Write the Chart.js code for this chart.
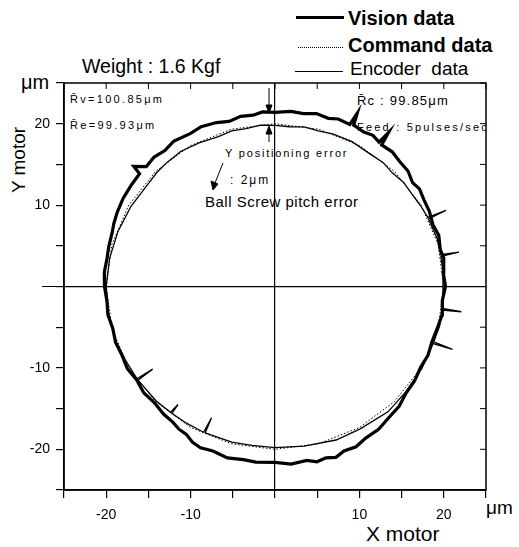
<!DOCTYPE html>
<html>
<head>
<meta charset="utf-8">
<script src="https://cdn.jsdelivr.net/npm/chart.js@4.4.0/dist/chart.umd.min.js"></script>
<style>
    body { margin: 0; background: #fff; }
    #wrap { position: relative; width: 519px; height: 547px; overflow: hidden; font-family: "Liberation Sans", Arial, sans-serif; color: #000; }
    #wrap canvas { position: absolute; left: 0; top: 0; }
    .t { position: absolute; white-space: pre; line-height: 1; transform: translateY(-50%); }
    .ln { position: absolute; }
</style>
</head>
<body>
<div id="wrap">
    <!-- legend -->
    <div class="ln" style="left:296px; top:16px; width:48px; height:3px; background:#000"></div>
    <div class="t" style="left:348px; top:18px; font-size:20px; font-weight:bold">Vision data</div>
    <div class="ln" style="left:298px; top:47px; width:45px; border-top:1.5px dotted #000"></div>
    <div class="t" style="left:348px; top:45px; font-size:20px; font-weight:bold">Command data</div>
    <div class="ln" style="left:295px; top:71px; width:48px; height:1px; background:#000"></div>
    <div class="t" style="left:350px; top:68px; font-size:19px">Encoder  data</div>

    <div class="t" style="left:82px; top:67px; font-size:19.5px">Weight : 1.6 Kgf</div>
    <div class="t" style="left:21px; top:82px; font-size:20px">μm</div>
    <div class="t" style="left:486px; top:507px; font-size:19px">μm</div>
    <div class="t" style="left:366px; top:533px; font-size:21px">X motor</div>
    <div class="t" style="left:18px; top:160px; font-size:19px; transform: translate(-50%, -50%) rotate(-90deg)">Y motor</div>

    <!-- notes inside the plot -->
    <div class="t" style="left:70px; top:99px; font-size:11px; letter-spacing:2.3px">R̄v=100.85μm</div>
    <div class="t" style="left:70px; top:125px; font-size:11px; letter-spacing:2.3px">R̄e=99.93μm</div>
    <div class="t" style="left:357px; top:100px; font-size:13px; letter-spacing:1.2px">R̄c : 99.85μm</div>
    <div style="position:absolute; left:357px; top:118px; width:129px; height:18px; overflow:hidden">
        <div class="t" style="left:0; top:9px; font-size:11px; letter-spacing:2.2px">Feed : 5pulses/sec</div>
    </div>
    <div class="t" style="left:225px; top:153px; font-size:11px; letter-spacing:1.8px">Y positioning error</div>
    <div class="t" style="left:230px; top:180px; font-size:12px; letter-spacing:2px">: 2μm</div>
    <div class="t" style="left:205px; top:201px; font-size:15px; letter-spacing:0.5px">Ball Screw pitch error</div>

    <canvas id="chart" width="519" height="547"></canvas>

    <svg width="519" height="547" style="position:absolute; left:0; top:0; pointer-events:none">
        <g stroke="#000" stroke-width="1" fill="#000">
            <line x1="269" y1="88" x2="269" y2="106"/>
            <polygon points="266,105 272,105 269,113"/>
            <line x1="269" y1="142" x2="269" y2="133"/>
            <polygon points="266,134 272,134 269,126"/>
            <line x1="223" y1="163" x2="215" y2="183"/>
            <polygon points="211,181 218,184 213,190"/>
        </g>
    </svg>
</div>

<script>
// angles in degrees, radii in μm
const visionAngle = [0, 5, 10, 13, 18, 22, 27, 31, 35, 38, 42, 46, 50, 54, 54.6, 55.2, 58, 61, 64.8, 65.4, 66, 70, 73, 77, 81, 85,
    90, 94, 97, 101, 105, 109, 114, 118, 124, 128, 132, 136, 138.6, 139.2, 144, 149, 154, 158, 161, 166, 170, 175,
    180, 185, 190, 195, 200, 205, 210, 215, 220, 225, 230, 234, 237, 240, 243, 246, 250, 255, 260, 264,
    270, 275, 280, 283, 286, 289, 292, 296, 300, 305, 310, 315, 320, 325, 330, 335, 340, 345, 350, 355, 360]
const visionRadius = [20.2, 20.0, 20.3, 20.1, 20.4, 20.2, 20.5, 20.6, 20.9, 20.7, 21.2, 21.3, 21.6, 21.5, 23.2, 21.6, 21.9, 21.7, 21.9, 23.4, 21.8, 21.9, 21.6, 21.8, 21.5, 21.6,
    21.4, 21.5, 21.2, 21.3, 21.0, 21.3, 21.5, 21.3, 21.5, 21.2, 21.4, 21.2, 22.3, 21.2, 21.1, 21.0, 20.8, 20.6, 20.4, 20.3, 20.2, 20.3,
    20.2, 20.0, 20.1, 19.9, 20.1, 20.0, 20.2, 20.0, 20.3, 20.2, 20.5, 20.6, 20.9, 21.0, 21.5, 21.7, 21.5, 21.8, 21.6, 21.7,
    21.6, 21.9, 21.7, 22.1, 21.9, 22.2, 21.8, 21.9, 21.5, 21.4, 21.0, 20.8, 20.3, 20.2, 19.9, 20.0, 19.8, 19.9, 20.1, 19.9, 20.2]

const encoderAngle = [0, 5, 10.7, 11, 11.3, 17, 24.5, 24.8, 25.1, 30, 35, 40, 45, 50, 56, 63, 70, 75, 80, 85, 90, 95, 100, 105, 110, 117, 124,
    130, 135, 141, 150, 160, 170, 180, 190, 200, 207, 214.7, 215, 215.3, 225, 231.3, 231.6, 231.9, 238, 244.7, 245, 245.3,
    255, 262, 270, 280, 291, 300, 311, 320, 330, 339.5, 339.8, 340.1, 346, 351.7, 352, 352.3, 360]
const encoderRadius = [19.9, 20.0, 20.0, 22.2, 20.0, 20.1, 20.0, 22.3, 20.0, 19.9, 19.8, 19.9, 19.7, 19.9, 19.8, 20.0, 19.95, 19.8, 19.9, 19.7, 19.8, 19.9, 19.7, 19.8, 19.6, 19.8, 20.0,
    19.9, 19.8, 19.6, 19.7, 19.8, 19.9, 20.0, 20.0, 20.0, 19.9, 19.9, 17.7, 19.9, 19.9, 19.8, 18.5, 19.8, 19.8, 19.8, 17.8, 19.8,
    19.8, 19.7, 19.8, 19.9, 20.2, 20.2, 20.4, 20.2, 20.1, 20.0, 22.4, 20.0, 20.1, 20.0, 22.3, 20.0, 19.9]

const commandAngle = [0, 15, 30, 45, 60, 75, 90, 105, 120, 135, 150, 165, 180, 195, 210, 225, 240, 255, 270, 285, 300, 315, 330, 345, 360]
const commandRadius = [20, 20, 20, 20, 20, 20, 20, 20, 20, 20, 20, 20, 20, 20, 20, 20, 20, 20, 20, 20, 20, 20, 20, 20, 20]

const axisTicks = [-25, -20, -15, -10, -5, 0, 5, 10, 15, 20, 25]

let toPoints = (angles, radii) => {
    return angles.map((a, i) => {
        let rad = a * Math.PI / 180
        return { x: radii[i] * Math.cos(rad), y: radii[i] * Math.sin(rad) }
    })
}

const framePlugin = {
    id: 'frame',
    afterDraw(chart) {
        const { ctx, chartArea: a, scales } = chart
        ctx.save()
        ctx.strokeStyle = '#000'
        ctx.lineWidth = 1.5
        ctx.strokeRect(a.left, a.top, a.right - a.left, a.bottom - a.top)
        ctx.lineWidth = 1
        ctx.beginPath()
        for (let v of axisTicks) {
            let px = scales.x.getPixelForValue(v)
            ctx.moveTo(px, a.top)
            ctx.lineTo(px, a.top + 6)
            let py = scales.y.getPixelForValue(v)
            ctx.moveTo(a.right, py)
            ctx.lineTo(a.right - 6, py)
        }
        // the zero line sticks out a bit on the left
        let y0 = scales.y.getPixelForValue(0)
        ctx.moveTo(a.left - 22, y0)
        ctx.lineTo(a.left, y0)
        ctx.stroke()
        ctx.restore()
    }
}

let axis = (size, pad) => ({
    type: 'linear',
    min: -25,
    max: 25,
    afterBuildTicks: (scale) => { scale.ticks = axisTicks.map(v => ({ value: v })) },
    afterFit: (scale) => {
        if (scale.isHorizontal()) scale.height = size
        else scale.width = size
    },
    border: { display: true, color: '#000', width: 1.5 },
    grid: {
        drawOnChartArea: true,
        color: (c) => c.tick && c.tick.value === 0 ? '#000' : 'rgba(0,0,0,0)',
        tickColor: '#000',
        lineWidth: 1.2,
        tickLength: 8,
    },
    ticks: {
        color: '#000',
        padding: pad,
        font: { family: '"Liberation Sans", Arial, sans-serif', size: 14 },
        callback: (v) => (v % 10 === 0 && v !== 0) ? String(v) : '',
    },
})

window.addEventListener('load', () => {
    new Chart(document.getElementById('chart'), {
        type: 'scatter',
        data: {
            datasets: [
                {
                    label: 'Command data',
                    data: toPoints(commandAngle, commandRadius),
                    showLine: true,
                    borderColor: '#000',
                    borderWidth: 1,
                    borderDash: [1.5, 2],
                    pointRadius: 0,
                },
                {
                    label: 'Encoder data',
                    data: toPoints(encoderAngle, encoderRadius),
                    showLine: true,
                    borderColor: '#000',
                    borderWidth: 1.3,
                    pointRadius: 0,
                },
                {
                    label: 'Vision data',
                    data: toPoints(visionAngle, visionRadius),
                    showLine: true,
                    borderColor: '#000',
                    borderWidth: 3.2,
                    pointRadius: 0,
                },
            ]
        },
        options: {
            responsive: false,
            animation: false,
            layout: { padding: { left: 0, top: 83, right: 33, bottom: 0 } },
            plugins: { legend: { display: false }, tooltip: { enabled: false } },
            scales: {
                x: axis(57, 9),
                y: axis(64, 6),
            }
        },
        plugins: [framePlugin]
    })
})
</script>
</body>
</html>
